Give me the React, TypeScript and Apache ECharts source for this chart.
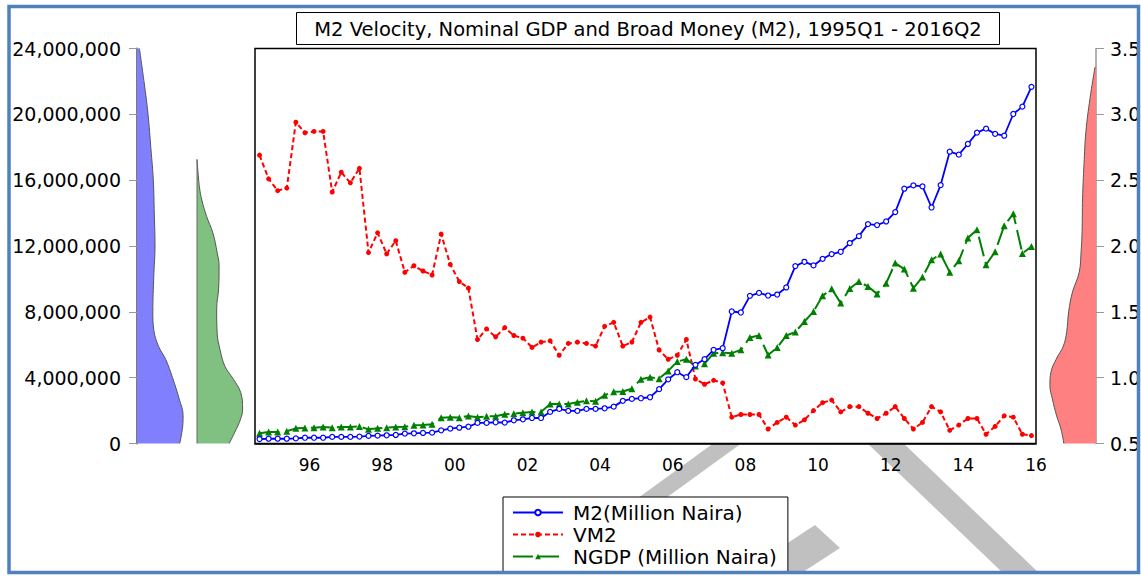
import React, { useEffect, useRef } from "react";
import * as echarts from "echarts";

const FONT = '"DejaVu Sans", sans-serif';

// Quarterly categories 1995Q1 - 2016Q2
const START_YEAR = 1995;
const N_QUARTERS = 86;
const quarters: string[] = [];
for (let i = 0; i < N_QUARTERS; i++) quarters.push(`${START_YEAR + Math.floor(i / 4)}Q${(i % 4) + 1}`);

// Tick labels (placed at mid-year of every second year)
const tickLabels = ["96", "98", "00", "02", "04", "06", "08", "10", "12", "14", "16"];

// M2 (Million Naira)
const m2 = [
  270000, 290000, 290000, 290000, 310000, 350000, 350000, 350000,
  400000, 400000, 400000, 420000, 460000, 480000, 500000, 520000,
  600000, 620000, 640000, 660000, 800000, 900000, 960000, 1020000,
  1250000, 1250000, 1290000, 1270000, 1410000, 1470000, 1550000, 1550000,
  1920000, 2100000, 1980000, 1980000, 2100000, 2100000, 2140000, 2240000,
  2590000, 2710000, 2750000, 2810000, 3300000, 3900000, 4330000, 4030000,
  4780000, 5120000, 5690000, 5790000, 8020000, 7960000, 8970000, 9150000,
  8990000, 9050000, 9480000, 10780000, 11040000, 10820000, 11220000, 11510000,
  11650000, 12180000, 12600000, 13330000, 13270000, 13490000, 14060000, 15480000,
  15680000, 15620000, 14340000, 15700000, 17730000, 17550000, 18200000, 18890000,
  19130000, 18810000, 18700000, 20020000, 20470000, 21670000,
];

// VM2 (velocity of M2)
const vm2 = [
  2.69, 2.51, 2.42, 2.44, 2.94, 2.86, 2.87, 2.87,
  2.41, 2.56, 2.48, 2.59, 1.95, 2.10, 1.94, 2.04,
  1.80, 1.85, 1.81, 1.78, 2.09, 1.86, 1.73, 1.68,
  1.29, 1.37, 1.31, 1.38, 1.32, 1.30, 1.23, 1.27,
  1.28, 1.17, 1.26, 1.27, 1.26, 1.24, 1.39, 1.42,
  1.24, 1.27, 1.42, 1.46, 1.21, 1.14, 1.17, 1.29,
  0.99, 0.95, 0.98, 0.96, 0.70, 0.72, 0.72, 0.72,
  0.61, 0.66, 0.70, 0.64, 0.68, 0.75, 0.81, 0.83,
  0.74, 0.78, 0.78, 0.73, 0.69, 0.73, 0.78, 0.69,
  0.61, 0.66, 0.78, 0.74, 0.60, 0.64, 0.69, 0.69,
  0.57, 0.63, 0.71, 0.70, 0.57, 0.56,
];

// NGDP (Million Naira)
const ngdp = [
  620000, 700000, 700000, 740000, 920000, 940000, 960000, 1000000,
  960000, 1000000, 1000000, 1040000, 860000, 920000, 960000, 1000000,
  1020000, 1110000, 1130000, 1170000, 1570000, 1590000, 1570000, 1670000,
  1590000, 1650000, 1650000, 1780000, 1810000, 1870000, 1920000, 1920000,
  2400000, 2400000, 2400000, 2500000, 2590000, 2570000, 2930000, 3150000,
  3160000, 3330000, 3910000, 4030000, 3940000, 4410000, 4980000, 5120000,
  4710000, 4840000, 5490000, 5520000, 5490000, 5690000, 6440000, 6560000,
  5380000, 5830000, 6560000, 6780000, 7410000, 8020000, 8970000, 9400000,
  8530000, 9420000, 9840000, 9540000, 9090000, 9740000, 10960000, 10600000,
  9440000, 10110000, 11160000, 11510000, 10410000, 11100000, 12480000, 12990000,
  10860000, 11650000, 13230000, 13960000, 11550000, 11970000,
];

// Kernel density profiles (relative density vs. level)
const m2DensLevels = [0, 1.0e6, 1.7e6, 2.7e6, 4.0e6, 5.1e6, 5.9e6, 6.9e6, 8.0e6, 10.2e6, 12e6, 14e6, 16e6, 17.9e6, 20e6, 21.9e6, 24e6];
const m2DensValues = [0.89, 0.95, 0.96, 0.88, 0.74, 0.6, 0.45, 0.35, 0.33, 0.35, 0.375, 0.36, 0.34, 0.29, 0.23, 0.15, 0.05];

const ngdpDensLevels = [0, 0.7e6, 1.5e6, 2.1e6, 3.1e6, 3.9e6, 4.7e6, 5.7e6, 6.7e6, 8.2e6, 9.4e6, 10.8e6, 11.6e6, 12.8e6, 13.8e6, 14.8e6, 15.6e6, 17.26e6];
const ngdpDensValues = [0.67, 0.79, 0.91, 0.95, 0.91, 0.76, 0.58, 0.48, 0.42, 0.41, 0.45, 0.46, 0.42, 0.33, 0.2, 0.1, 0.05, 0];

const vm2DensLevels = [0.5, 0.61, 0.71, 0.84, 0.94, 1.04, 1.14, 1.24, 1.35, 1.5, 1.65, 1.8, 1.96, 2.11, 2.36, 2.62, 2.87, 3.12, 3.36];
const vm2DensValues = [0.67, 0.73, 0.82, 0.91, 0.96, 0.94, 0.83, 0.68, 0.61, 0.57, 0.49, 0.35, 0.31, 0.29, 0.28, 0.25, 0.21, 0.125, 0.02];

const TITLE = "M2 Velocity, Nominal GDP and Broad Money (M2), 1995Q1 - 2016Q2";

export default function App() {
  const ref = useRef<HTMLDivElement>(null);

  useEffect(() => {
    if (!ref.current) return;
    const chart = echarts.init(ref.current, undefined, { renderer: "svg" });

    const boundaryLabels: string[] = [];
    for (let k = 0; k <= N_QUARTERS; k++) boundaryLabels.push("");
    tickLabels.forEach((t, m) => {
      const k = 6 + 8 * m;
      if (k <= N_QUARTERS) boundaryLabels[k] = t;
    });

    const VM2_SCALE = 10000;
    const plotTop = 48.5;
    const plotH = 395;

    const option: any = {
      animation: false,
      textStyle: { fontFamily: FONT },
      grid: [
        { left: 255, top: plotTop, width: 781, height: plotH, show: true, backgroundColor: "#fff", borderColor: "#000", borderWidth: 1.5, containLabel: false, outerBoundsMode: "none" },
        { left: 137, top: plotTop, width: 48, height: plotH, containLabel: false, outerBoundsMode: "none" },
        { left: 197, top: plotTop, width: 48, height: plotH, containLabel: false, outerBoundsMode: "none" },
        { left: 1048, top: plotTop, width: 48, height: plotH, containLabel: false, outerBoundsMode: "none" },
      ],
      xAxis: [
        {
          type: "category", gridIndex: 0, data: quarters, boundaryGap: true, position: "bottom",
          axisLine: { onZero: false, lineStyle: { color: "#000", width: 1.5 } },
          axisTick: { interval: 0, length: 4, lineStyle: { color: "#000", width: 1 } },
          axisLabel: { show: false }, splitLine: { show: false },
        },
        {
          type: "category", gridIndex: 0, data: quarters, boundaryGap: true, position: "bottom",
          axisLine: { show: false, onZero: false },
          axisTick: { interval: (i: number) => i % 4 === 0, length: 8, lineStyle: { color: "#000", width: 1 } },
          axisLabel: { show: false }, splitLine: { show: false },
        },
        {
          type: "category", gridIndex: 0, data: boundaryLabels, boundaryGap: false, position: "bottom",
          axisLine: { show: false, onZero: false }, axisTick: { show: false },
          axisLabel: { interval: 0, margin: 13, fontSize: 17, color: "#000", fontFamily: FONT },
          splitLine: { show: false },
        },
        { type: "value", gridIndex: 1, min: 0, max: 1, show: false },
        { type: "value", gridIndex: 2, min: 0, max: 1, show: false },
        { type: "value", gridIndex: 3, min: 0, max: 1, inverse: true, show: false },
      ],
      yAxis: [
        {
          type: "value", gridIndex: 0, min: 0, max: 24000000, interval: 4000000, position: "left", offset: 118,
          axisLine: { show: true, onZero: false, lineStyle: { color: "#7a7a7a", width: 2 } },
          axisTick: { show: true, length: 8, lineStyle: { color: "#999", width: 1 } },
          axisLabel: { margin: 16, fontSize: 19, color: "#000", fontFamily: FONT, formatter: (v: number) => v.toLocaleString("en-US") },
          splitLine: { show: false },
        },
        {
          type: "value", gridIndex: 0, min: 0.5, max: 3.5, interval: 0.5, position: "right", offset: 60,
          axisLine: { show: true, onZero: false, lineStyle: { color: "#999", width: 1.5 } },
          axisTick: { show: true, length: 8, lineStyle: { color: "#999", width: 1 } },
          axisLabel: { margin: 14, fontSize: 19, color: "#000", fontFamily: FONT, formatter: (v: number) => v.toFixed(1) },
          splitLine: { show: false },
        },
        { type: "time", gridIndex: 1, min: 0, max: 24000000, show: false },
        { type: "time", gridIndex: 2, min: 0, max: 24000000, show: false },
        { type: "time", gridIndex: 3, min: 0.5 * VM2_SCALE, max: 3.5 * VM2_SCALE, show: false },
      ],
      legend: {
        data: ["M2(Million Naira)", "VM2", "NGDP (Million Naira)"],
        orient: "vertical", left: 503, top: 497,
        padding: [5, 11, 6, 9], itemGap: 1, itemWidth: 50, itemHeight: 7,
        borderColor: "#000", borderWidth: 1, backgroundColor: "#fff",
        textStyle: { fontSize: 20, fontFamily: FONT, color: "#000", lineHeight: 21, padding: [0, 0, 0, 5] },
        z: 10,
      },
      series: [
        {
          name: "M2(Million Naira)", type: "line", xAxisIndex: 0, yAxisIndex: 0, data: m2,
          symbol: "circle", symbolSize: 5, showAllSymbol: true,
          itemStyle: { color: "#fff", borderColor: "#0000ff", borderWidth: 1.2 },
          lineStyle: { color: "#0000ff", width: 1.8 }, z: 4,
        },
        {
          name: "VM2", type: "line", xAxisIndex: 0, yAxisIndex: 1, data: vm2,
          symbol: "circle", symbolSize: 5, showAllSymbol: true,
          itemStyle: { color: "#ff0000" },
          lineStyle: { color: "#ff0000", width: 2, type: [5, 3] }, z: 3,
        },
        {
          name: "NGDP (Million Naira)", type: "line", xAxisIndex: 0, yAxisIndex: 0, data: ngdp,
          symbol: "triangle", symbolSize: 7, showAllSymbol: true,
          itemStyle: { color: "#008000" },
          lineStyle: { color: "#008000", width: 2, type: [20, 6] }, z: 3,
        },
        {
          name: "m2-density", type: "line", xAxisIndex: 3, yAxisIndex: 2,
          data: m2DensValues.map((d, i) => [d, m2DensLevels[i]]),
          smooth: 0.4, symbol: "none", silent: true,
          lineStyle: { color: "#555", width: 1 }, areaStyle: { color: "#8080ff", opacity: 1 },
        },
        {
          name: "ngdp-density", type: "line", xAxisIndex: 4, yAxisIndex: 3,
          data: ngdpDensValues.map((d, i) => [d, ngdpDensLevels[i]]),
          smooth: 0.4, symbol: "none", silent: true,
          lineStyle: { color: "#555", width: 1 }, areaStyle: { color: "#80c080", opacity: 1 },
        },
        {
          name: "ngdp-density-base", type: "line", xAxisIndex: 4, yAxisIndex: 3, clip: false,
          data: [[0, ngdpDensLevels[0]], [0, ngdpDensLevels[ngdpDensLevels.length - 1]]],
          symbol: "none", silent: true, lineStyle: { color: "#666", width: 1 },
        },
        {
          name: "vm2-density", type: "line", xAxisIndex: 5, yAxisIndex: 4,
          data: vm2DensValues.map((d, i) => [d, Math.round(vm2DensLevels[i] * VM2_SCALE)]),
          smooth: 0.4, symbol: "none", silent: true,
          lineStyle: { color: "#555", width: 1 }, areaStyle: { color: "#ff8080", opacity: 1 },
        },
      ],
      graphic: [
        { type: "polygon", z: -1, silent: true, shape: { points: [[718, 440], [746, 440], [666, 498], [638, 498]] }, style: { fill: "#c0c0c0" } },
        { type: "polygon", z: -1, silent: true, shape: { points: [[815, 525], [840, 548], [800, 574], [740, 574]] }, style: { fill: "#c0c0c0" } },
        { type: "polygon", z: -1, silent: true, shape: { points: [[864, 440], [900, 440], [1040, 574], [1004, 574]] }, style: { fill: "#c0c0c0" } },
        { type: "rect", z: 5, silent: true, shape: { x: 296.5, y: 12.5, width: 703, height: 32 }, style: { fill: "#fff", stroke: "#000", lineWidth: 1 } },
        { type: "text", z: 6, silent: true, style: { text: TITLE, x: 648, y: 29, align: "center", verticalAlign: "middle", fontSize: 19.5, fontFamily: FONT, fill: "#000" } },
        { type: "rect", z: 100, silent: true, shape: { x: 9, y: 6.5, width: 1129.5, height: 566 }, style: { fill: "none", stroke: "#4f81bd", lineWidth: 3.5 } },
      ],
    };

    chart.setOption(option);
    return () => chart.dispose();
  }, []);

  return (
    <div style={{ position: "fixed", left: 0, top: 0, width: 1141, height: 576, overflow: "hidden", background: "#fff" }}>
      <div ref={ref} style={{ width: 1141, height: 576 }} />
    </div>
  );
}
